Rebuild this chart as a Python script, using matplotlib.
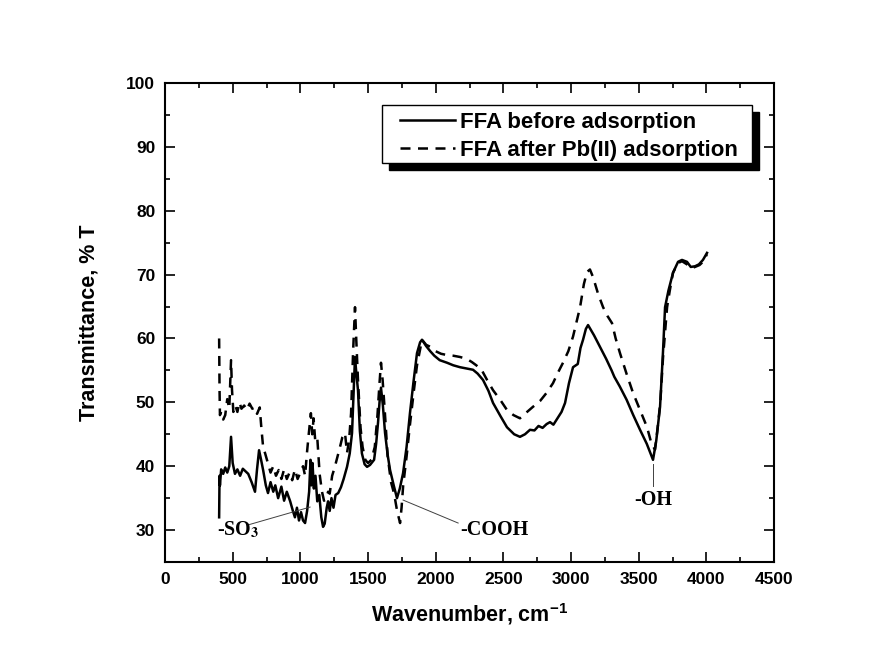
import matplotlib
matplotlib.use("Agg")
import matplotlib.pyplot as plt
from matplotlib.patches import Rectangle
from matplotlib.ticker import MultipleLocator

# ---------------- data ----------------
wn_before = [400, 403, 406, 415, 430, 445, 460, 475, 488, 500, 517, 535, 555, 575, 595, 615, 640, 665, 680, 695,
             710, 725, 745, 761, 780, 800, 815, 836, 860, 880, 900, 925, 945, 960, 975, 990, 1005, 1020, 1035, 1050,
             1065, 1075, 1082, 1090, 1100, 1112, 1125, 1140, 1155, 1168, 1180, 1195, 1205, 1217, 1230, 1245, 1260,
             1280, 1300, 1320, 1345, 1365, 1382, 1395, 1404, 1412, 1426, 1440, 1455, 1475, 1493, 1515, 1545, 1560,
             1574, 1585, 1596, 1610, 1626, 1645, 1663, 1690, 1714, 1735, 1759, 1785, 1810, 1835, 1862, 1885, 1899,
             1930, 1960, 1990, 2030, 2084, 2130, 2180, 2230, 2276, 2310, 2350, 2390, 2424, 2480, 2527, 2580, 2623,
             2660, 2697, 2730, 2760, 2790, 2820, 2845, 2870, 2900, 2930, 2956, 2985, 3015, 3050, 3070, 3089, 3110,
             3126, 3170, 3214, 3260, 3300, 3320, 3360, 3411, 3460, 3510, 3560, 3606, 3630, 3658, 3680, 3695, 3720,
             3754, 3791, 3820, 3857, 3885, 3916, 3945, 3975, 4005]
t_before = [32.0, 38.5, 37.0, 39.5, 38.8, 39.8, 39.0, 40.0, 44.6, 40.5, 38.8, 39.5, 38.5, 39.6, 39.2, 38.8, 37.5,
            36.0, 39.5, 42.5, 41.0, 39.4, 37.0, 35.8, 37.5, 36.0, 37.0, 35.0, 36.8, 34.6, 36.0, 34.5, 33.0, 32.0,
            33.5, 31.5, 32.8, 31.5, 31.1, 33.0, 36.0, 41.0, 37.0, 40.5, 36.5, 38.5, 34.5, 35.5, 32.0, 30.5, 31.0,
            33.5, 34.5, 33.0, 35.0, 33.5, 35.5, 35.8, 36.7, 38.0, 39.9, 42.0, 45.2, 52.0, 57.1, 55.0, 51.9, 45.5,
            42.0, 40.3, 39.9, 40.2, 41.0, 43.5, 46.8, 50.0, 52.3, 49.5, 45.2, 41.8, 39.4, 37.0, 35.0, 36.5, 38.9,
            43.0, 48.3, 53.0, 57.7, 59.4, 59.8, 58.8, 58.0, 57.3, 56.6, 56.2, 55.8, 55.5, 55.3, 55.1, 54.5, 53.5,
            51.8, 49.9, 47.8, 46.1, 45.0, 44.6, 45.0, 45.7, 45.6, 46.3, 46.0, 46.6, 46.9, 46.5, 47.5, 48.5, 49.9,
            53.0, 55.5, 56.0, 58.5, 59.8, 61.5, 62.1, 60.5, 58.7, 56.8, 55.0, 54.0, 52.5, 50.4, 48.0, 45.7, 43.5,
            41.0, 44.0, 49.3, 58.0, 64.9, 67.5, 70.3, 72.0, 72.3, 72.0, 71.2, 71.3, 71.6, 72.3, 73.4]

wn_after = [400, 403, 406, 415, 430, 445, 460, 475, 488, 495, 505, 520, 535, 550, 565, 585, 605, 625, 645, 665, 680,
            700, 712, 725, 740, 761, 780, 800, 820, 840, 860, 880, 900, 920, 940, 960, 980, 1000, 1020, 1035, 1049,
            1062, 1078, 1088, 1098, 1110, 1125, 1143, 1160, 1175, 1190, 1205, 1217, 1235, 1255, 1275, 1293, 1310,
            1330, 1345, 1360, 1375, 1390, 1404, 1413, 1426, 1445, 1460, 1480, 1500, 1525, 1550, 1570, 1585, 1596,
            1608, 1625, 1645, 1670, 1693, 1715, 1737, 1748, 1760, 1785, 1810, 1840, 1862, 1899, 1930, 1960, 2000,
            2040, 2084, 2130, 2180, 2230, 2268, 2300, 2339, 2380, 2424, 2480, 2527, 2575, 2623, 2670, 2719, 2771,
            2820, 2867, 2900, 2941, 2980, 3015, 3040, 3067, 3095, 3118, 3140, 3163, 3200, 3237, 3270, 3303, 3330,
            3362, 3410, 3458, 3510, 3562, 3595, 3621, 3640, 3660, 3680, 3710, 3730, 3754, 3791, 3820, 3857, 3890,
            3916, 3950, 3975, 4005]
t_after = [60.0, 52.0, 48.0, 48.5, 47.3, 48.0, 50.5, 49.0, 56.6, 52.0, 48.5, 49.5, 48.5, 50.0, 49.0, 49.5, 48.8,
           49.8, 49.0, 49.2, 48.2, 49.2, 46.0, 43.0, 42.0, 40.4, 39.0, 40.0, 38.5, 39.4, 38.0, 39.5, 38.0, 39.0,
           37.8, 39.5, 38.0, 39.0, 40.0, 38.5, 42.1, 45.0, 48.3, 45.0, 47.5, 44.0, 44.5, 38.7, 36.0, 34.6, 34.8,
           36.0, 35.7, 38.5, 39.9, 41.5, 43.0, 44.5, 45.2, 42.1, 44.0, 48.3, 58.0, 64.9, 60.0, 53.5, 46.0, 43.0,
           41.0, 40.5, 41.0, 43.0, 48.0, 53.0, 56.2, 53.5, 48.3, 41.6, 37.5, 35.7, 33.0, 31.1, 33.5, 37.0, 41.5,
           46.5, 52.0, 55.8, 59.8, 59.0, 58.7, 58.0, 57.6, 57.4, 57.3, 57.1, 56.8, 56.3, 55.8, 55.1, 53.5, 51.9,
           50.3, 48.8, 48.0, 47.5, 48.4, 49.3, 50.2, 51.5, 53.0, 54.5, 56.2, 58.0, 60.3, 62.5, 64.9, 68.5, 70.4,
           70.8, 69.6, 67.0, 64.9, 63.5, 62.4, 60.0, 57.7, 54.5, 51.5, 48.8, 46.1, 43.5, 42.6, 46.0, 50.0, 57.0,
           64.9, 67.5, 70.3, 71.8, 72.1, 71.6, 71.0, 71.2, 71.5, 72.0, 73.2]

labels = ["FFA before adsorption", "FFA after Pb(II) adsorption"]
x_ticks = [0, 500, 1000, 1500, 2000, 2500, 3000, 3500, 4000, 4500]
y_ticks = [30, 40, 50, 60, 70, 80, 90, 100]

# annotations: (text, text position, line start, line end)
ann_so3 = ("-SO$_\\mathbf{3}$", (384, 30.0), (613, 30.8), (1072, 33.6))
ann_cooh = ("-COOH", (2180, 30.0), (2166, 31.1), (1759, 34.7))
ann_oh = ("-OH", (3606, 34.7), (3606, 36.9), (3606, 40.4))

# ---------------- style ----------------
plt.rcParams['font.family'] = ['Liberation Sans', 'DejaVu Sans']
plt.rcParams['font.weight'] = 'bold'
plt.rcParams['mathtext.fontset'] = 'custom'
plt.rcParams['mathtext.rm'] = 'Liberation Sans'
plt.rcParams['mathtext.bf'] = 'Liberation Sans:bold'
plt.rcParams['axes.unicode_minus'] = False

W, H = 884, 665
fig = plt.figure(figsize=(W / 100, H / 100), dpi=100, facecolor='white')
ax = fig.add_axes([165 / W, 1 - 562 / H, (774 - 165) / W, (562 - 83) / H])

ax.plot(wn_before, t_before, color='black', lw=1.8, ls='-', label=labels[0])
ax.plot(wn_after, t_after, color='black', lw=1.8, ls=(0, (4, 3)), label=labels[1])

ax.set_xlim(0, 4500)
ax.set_ylim(25, 100)
ax.set_xticks(x_ticks)
ax.set_yticks(y_ticks)
ax.xaxis.set_minor_locator(MultipleLocator(250))
ax.yaxis.set_minor_locator(MultipleLocator(5))
ax.tick_params(which='both', direction='in', top=True, right=True, width=1.2, color='black')
ax.tick_params(which='major', length=7, pad=7, labelsize=12.5)
ax.tick_params(which='minor', length=3.5)
for lab in ax.get_xticklabels() + ax.get_yticklabels():
    lab.set_fontweight('bold')
for s in ax.spines.values():
    s.set_linewidth(1.5)

ax.set_xlabel("Wavenumber, cm$^{\\mathbf{-1}}$", fontsize=15.5, fontweight='bold', labelpad=10)
ax.set_ylabel("Transmittance, % T", fontsize=15.5, fontweight='bold', labelpad=19)

# annotations
serif = ['Liberation Serif', 'DejaVu Serif']
for txt, tpos, p0, p1 in [ann_so3, ann_cooh]:
    ax.plot([p0[0], p1[0]], [p0[1], p1[1]], color='0.25', lw=0.7)
    ax.text(tpos[0], tpos[1], txt, family=serif, fontsize=14.5, fontweight='bold',
            ha='left', va='center', math_fontfamily='stix')
txt, tpos, p0, p1 = ann_oh
ax.plot([p0[0], p1[0]], [p0[1], p1[1]], color='0.25', lw=0.7)
ax.text(tpos[0], tpos[1], txt, family=serif, fontsize=14.5, fontweight='bold', ha='center', va='center')

# legend box with hard shadow (drawn in the axes, above the data)
bx0, by0, bx1, by1 = 382, 105, 752, 163
off = 7
ax.add_patch(Rectangle(((bx0 + off) / W, 1 - (by1 + off) / H), (bx1 - bx0) / W, (by1 - by0) / H,
                       transform=fig.transFigure, facecolor='black', edgecolor='black',
                       zorder=6, clip_on=False))
ax.add_patch(Rectangle((bx0 / W, 1 - by1 / H), (bx1 - bx0) / W, (by1 - by0) / H,
                       transform=fig.transFigure, facecolor='white', edgecolor='black', lw=1.0,
                       zorder=7, clip_on=False))
leg = ax.legend(loc='center left', bbox_to_anchor=(391 / W, 1 - 136.5 / H), bbox_transform=fig.transFigure,
                frameon=False, handlelength=2.5, handletextpad=0.2, labelspacing=0.3,
                borderaxespad=0, borderpad=0.4, prop={'weight': 'bold', 'size': 16})
leg.set_zorder(8)

fig.savefig("out.png", dpi=100, facecolor='white')
